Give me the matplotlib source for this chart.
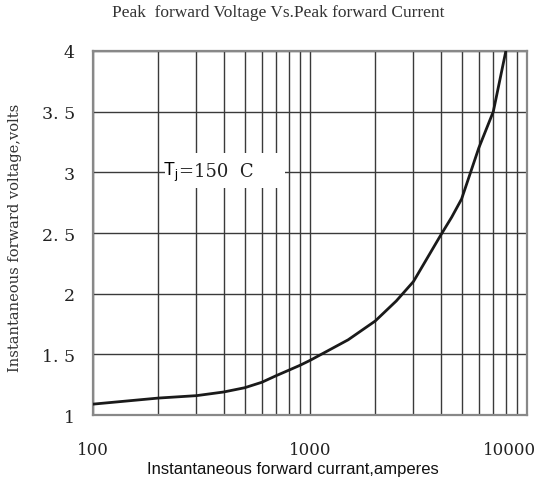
import numpy as np
import matplotlib
matplotlib.use("Agg")
import matplotlib.pyplot as plt
from matplotlib.patches import Rectangle
from matplotlib.transforms import ScaledTranslation
from matplotlib.ticker import FixedLocator, FixedFormatter, LogLocator, NullFormatter

# curve
current = [100, 200, 300, 400, 500, 600, 700, 800, 900, 1000,
           1500, 2000, 2500, 3000, 4000, 4500, 5000, 6000, 7000, 8000]
voltage = [1.09, 1.14, 1.16, 1.19, 1.225, 1.27, 1.325, 1.37, 1.41, 1.45,
           1.62, 1.775, 1.94, 2.10, 2.48, 2.63, 2.78, 3.2, 3.5, 4.0]

y_ticks = [1, 1.5, 2, 2.5, 3, 3.5, 4]
y_labels = ["1", "1. 5", "2", "2. 5", "3", "3. 5", "4"]
x_ticks = [100, 1000, 10000]
x_labels = ["100", "1000", "10000"]

serif = ["DejaVu Serif"]
serif_narrow = ["Liberation Serif", "DejaVu Serif"]
sans = ["Liberation Sans", "DejaVu Sans"]

fig = plt.figure(figsize=(5.5, 4.81), dpi=100)
ax = fig.add_axes([0.169, 0.135, 0.789, 0.757])

ax.set_xscale("log")
ax.set_xlim(100, 10000)
ax.set_ylim(1, 4)

ax.xaxis.set_major_locator(FixedLocator(x_ticks))
ax.xaxis.set_major_formatter(FixedFormatter(x_labels))
ax.xaxis.set_minor_locator(LogLocator(base=10, subs=np.arange(2, 10)))
ax.xaxis.set_minor_formatter(NullFormatter())
ax.yaxis.set_major_locator(FixedLocator(y_ticks))
ax.yaxis.set_major_formatter(FixedFormatter(y_labels))

ax.grid(True, which="both", color="#3a3a3a", lw=1.0)
ax.tick_params(which="both", length=0)
ax.tick_params(axis="x", pad=19, labelsize=12, labelcolor="#222222")
ax.tick_params(axis="y", pad=13, labelsize=12.5, labelcolor="#222222")
for lab in ax.get_xticklabels() + ax.get_yticklabels():
    lab.set_fontfamily(serif)
# the last x label sits a bit left of the axis end in the original
last = ax.get_xticklabels()[-1]
last.set_transform(last.get_transform() + ScaledTranslation(-0.17, 0, fig.dpi_scale_trans))

for s in ax.spines.values():
    s.set_color("#888888")
    s.set_linewidth(1.6)

ax.plot(current, voltage, color="#1a1a1a", lw=2.0, zorder=3)

# white box behind the temperature label
ax.add_patch(Rectangle((215, 2.87), 767 - 215, 0.29, facecolor="white",
                       edgecolor="none", zorder=2))
ax.text(0.161, 0.670, r"T$_\mathregular{j}$", transform=ax.transAxes, fontsize=13,
        fontfamily=sans, va="center", ha="left", zorder=4)
ax.text(0.198, 0.670, "=150  C", transform=ax.transAxes, fontsize=13,
        fontfamily=serif, va="center", ha="left", color="#222222", zorder=4)

fig.text(0.506, 0.972, "Peak  forward Voltage Vs.Peak forward Current",
         ha="center", va="center", fontsize=12.5, fontfamily=serif_narrow,
         color="#333333")
ax.set_xlabel("Instantaneous forward currant,amperes", fontsize=12,
              fontfamily=sans, color="#111111")
ax.xaxis.set_label_coords(0.461, -0.125)
ax.set_ylabel("Instantaneous forward voltage,volts", fontsize=10.5,
              fontfamily=serif, color="#333333")
ax.yaxis.set_label_coords(-0.163, 0.49)

fig.savefig("out.png", dpi=100)
